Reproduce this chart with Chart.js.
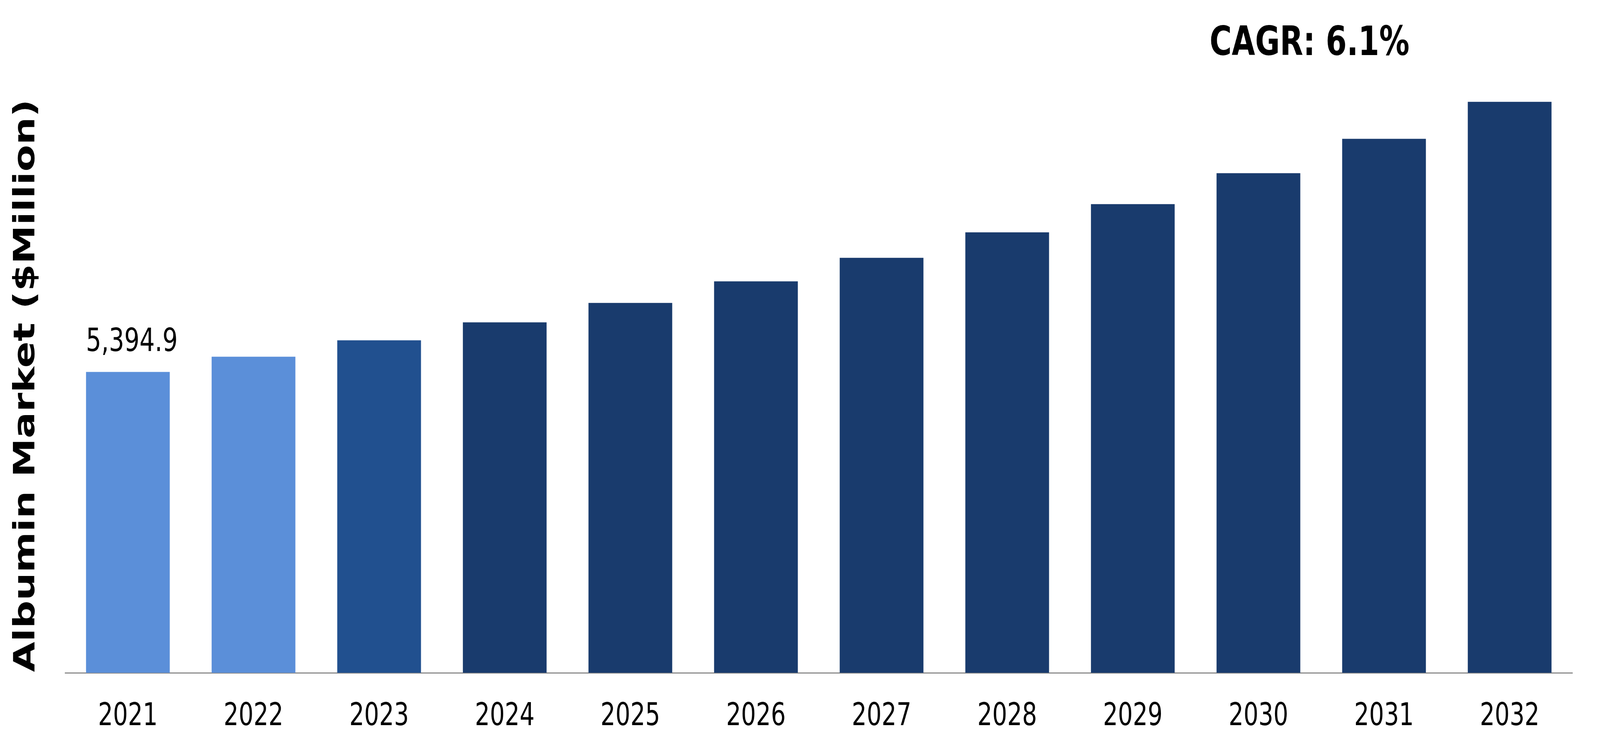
<!DOCTYPE html>
<html>
<head>
<meta charset="utf-8">
<title>Albumin Market</title>
<script src="https://cdn.jsdelivr.net/npm/chart.js@4.4.1/dist/chart.umd.min.js"></script>
<style>
  html, body { margin: 0; padding: 0; background: #ffffff; overflow: hidden; }
  #wrap { position: absolute; left: 0; top: 0; width: 5459px; height: 1913px; transform-origin: 0 0; }
</style>
</head>
<body>
<div id="wrap">
  <canvas id="albuminChart" width="5459" height="1913"></canvas>
</div>
<script>
const years = ['2021', '2022', '2023', '2024', '2025', '2026', '2027', '2028', '2029', '2030', '2031', '2032'];
const marketValues = [5394.9, 5669, 5962, 6285, 6633, 7019, 7442, 7899, 8405, 8959, 9575, 10239];
const barColors = ['#5b8fd9', '#5b8fd9', '#21508f', '#193b6d', '#193b6d', '#193b6d', '#193b6d', '#193b6d', '#193b6d', '#193b6d', '#193b6d', '#193b6d'];
const labelledYears = ['2021'];
const cagrText = 'CAGR: 6.1%';
const yTitle = 'Albumin Market ($Million)';

const FONT = "'DejaVu Sans', Verdana, sans-serif";

// the drawing is laid out at 5459x1913, stretch it to the window we get
const wrap = document.getElementById('wrap');
const fx = window.innerWidth / 5459;
const fy = window.innerHeight / 1913;
wrap.style.transform = 'scale(' + fx + ',' + fy + ')';

// value label above the first bar + the CAGR note at the top right
const annotations = {
  id: 'annotations',
  afterDatasetsDraw(chart) {
    const ctx = chart.ctx;
    const meta = chart.getDatasetMeta(0);
    ctx.save();
    ctx.fillStyle = '#000000';
    ctx.textBaseline = 'alphabetic';
    ctx.font = '82px ' + FONT;
    ctx.textAlign = 'left';
    meta.data.forEach((bar, i) => {
      if (!labelledYears.includes(years[i])) return;
      const v = marketValues[i].toLocaleString('en-US', { minimumFractionDigits: 1 });
      ctx.fillText(v, bar.x - bar.width / 2, bar.y - 54);
    });
    ctx.font = 'bold 103px ' + FONT;
    ctx.fillText(cagrText, 4127, 141);
    ctx.restore();
  }
};

const ctx = document.getElementById('albuminChart').getContext('2d');
new Chart(ctx, {
  type: 'bar',
  data: {
    labels: years,
    datasets: [{
      data: marketValues,
      backgroundColor: barColors,
      borderWidth: 0,
      categoryPercentage: 1.0,
      barPercentage: 0.667
    }]
  },
  options: {
    responsive: false,
    devicePixelRatio: 1,
    animation: false,
    layout: {
      padding: { top: 252, bottom: 0, left: 31, right: 94 }
    },
    plugins: {
      legend: { display: false },
      tooltip: { enabled: false }
    },
    scales: {
      x: {
        grid: { display: false, drawTicks: false },
        border: { display: true, color: '#8c8c8c', width: 3 },
        ticks: {
          color: '#000000',
          padding: 65,
          font: { family: FONT, size: 80 }
        },
        // keep the axis band a fixed height so the baseline sits where it should
        afterFit(scale) { scale.height = 190; }
      },
      y: {
        min: 0,
        max: 10300,
        grid: { display: false, drawTicks: false },
        border: { display: false },
        ticks: { display: false },
        title: {
          display: true,
          text: yTitle,
          color: '#000000',
          padding: { top: 0, bottom: 71 },
          font: { family: FONT, size: 100, weight: 'bold' }
        }
      }
    }
  },
  plugins: [annotations]
});
</script>
</body>
</html>
